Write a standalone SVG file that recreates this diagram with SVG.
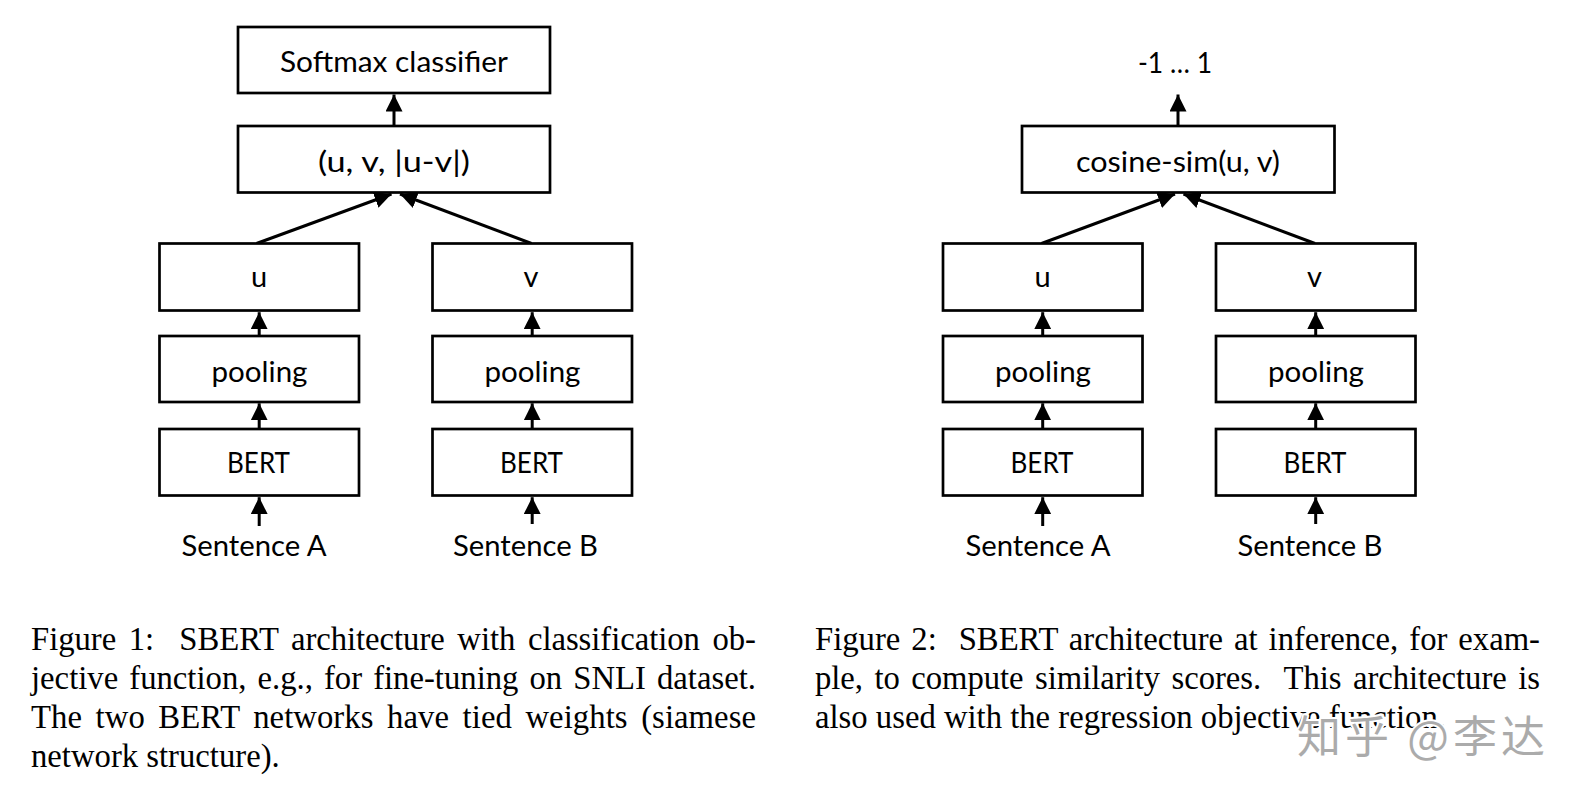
<svg xmlns="http://www.w3.org/2000/svg" width="1585" height="798" viewBox="0 0 1585 798">
  <style>
    .box { fill: #fff; stroke: #000; stroke-width: 2.7; }
    .lbl { font-family: Lato, "Open Sans", "Liberation Sans", sans-serif; font-size: 29px; fill: #000; text-anchor: middle; }
    .edge { stroke: #000; stroke-width: 3; fill: none; marker-end: url(#ah); }
    .cap { font-family: "Liberation Serif", "Times New Roman", serif; font-size: 32.7px; fill: #000; }
    .wm { font-family: "Noto Sans CJK SC", "Noto Sans", sans-serif; font-size: 44px; fill: #ababab; stroke: #fff; stroke-width: 4; paint-order: stroke; stroke-linejoin: round; }
  </style>
  <defs>
    <marker id="ah" markerUnits="userSpaceOnUse" markerWidth="17" markerHeight="17" refX="17" refY="8.5" orient="auto" viewBox="0 0 17 17">
      <path d="M0,0 L17,8.5 L0,17 Z" fill="#000"/>
    </marker>
  </defs>
  <rect width="1585" height="798" fill="#fff"/>

  <g id="connectors">
    <!-- Figure 1 -->
    <line class="edge" x1="394" y1="126" x2="394" y2="94.5"/>
    <line class="edge" x1="256.5" y1="243.5" x2="391.5" y2="194"/>
    <line class="edge" x1="531.5" y1="243.5" x2="400" y2="194"/>
    <line class="edge" x1="259.2" y1="336" x2="259.2" y2="312.2"/>
    <line class="edge" x1="532.2" y1="336" x2="532.2" y2="312.2"/>
    <line class="edge" x1="259.2" y1="429" x2="259.2" y2="403.3"/>
    <line class="edge" x1="532.2" y1="429" x2="532.2" y2="403.3"/>
    <line class="edge" x1="259.2" y1="526" x2="259.2" y2="497.2"/>
    <line class="edge" x1="532.2" y1="524" x2="532.2" y2="497.2"/>
    <!-- Figure 2 -->
    <line class="edge" x1="1178" y1="126" x2="1178" y2="94.5"/>
    <line class="edge" x1="1041.5" y1="243.5" x2="1175" y2="194"/>
    <line class="edge" x1="1315" y1="243.5" x2="1183.5" y2="194"/>
    <line class="edge" x1="1042.7" y1="336" x2="1042.7" y2="312.2"/>
    <line class="edge" x1="1315.7" y1="336" x2="1315.7" y2="312.2"/>
    <line class="edge" x1="1042.7" y1="429" x2="1042.7" y2="403.3"/>
    <line class="edge" x1="1315.7" y1="429" x2="1315.7" y2="403.3"/>
    <line class="edge" x1="1042.7" y1="526" x2="1042.7" y2="497.2"/>
    <line class="edge" x1="1315.7" y1="524" x2="1315.7" y2="497.2"/>
  </g>

  <!-- Figure 1 nodes -->
  <g id="f1-softmax">
    <rect class="box" x="238" y="27" width="312" height="66"/>
    <text class="lbl" x="394" y="71.5" textLength="228" lengthAdjust="spacingAndGlyphs">Softmax classifier</text>
  </g>
  <g id="f1-concat">
    <rect class="box" x="238" y="126" width="312" height="66.5"/>
    <text class="lbl" x="394" y="172" textLength="152" lengthAdjust="spacingAndGlyphs">(u, v, |u-v|)</text>
  </g>
  <g id="f1-u">
    <rect class="box" x="159.5" y="243.5" width="199.5" height="67"/>
    <text class="lbl" x="259" y="287">u</text>
  </g>
  <g id="f1-v">
    <rect class="box" x="432.5" y="243.5" width="199.5" height="67"/>
    <text class="lbl" x="531" y="287">v</text>
  </g>
  <g id="f1-pooling-a">
    <rect class="box" x="159.5" y="336" width="199.5" height="66"/>
    <text class="lbl" x="259.5" y="382" textLength="96" lengthAdjust="spacingAndGlyphs">pooling</text>
  </g>
  <g id="f1-pooling-b">
    <rect class="box" x="432.5" y="336" width="199.5" height="66"/>
    <text class="lbl" x="532.5" y="382" textLength="96" lengthAdjust="spacingAndGlyphs">pooling</text>
  </g>
  <g id="f1-bert-a">
    <rect class="box" x="159.5" y="429" width="199.5" height="66.5"/>
    <text class="lbl" x="258.5" y="473" textLength="63" lengthAdjust="spacingAndGlyphs">BERT</text>
  </g>
  <g id="f1-bert-b">
    <rect class="box" x="432.5" y="429" width="199.5" height="66.5"/>
    <text class="lbl" x="531.5" y="473" textLength="63" lengthAdjust="spacingAndGlyphs">BERT</text>
  </g>
  <g id="f1-sentence-a">
    <text class="lbl" x="254" y="556" textLength="145" lengthAdjust="spacingAndGlyphs">Sentence A</text>
  </g>
  <g id="f1-sentence-b">
    <text class="lbl" x="525.5" y="556" textLength="145" lengthAdjust="spacingAndGlyphs">Sentence B</text>
  </g>

  <!-- Figure 2 nodes -->
  <g id="f2-output">
    <text class="lbl" x="1175" y="73" textLength="74" lengthAdjust="spacingAndGlyphs">-1 … 1</text>
  </g>
  <g id="f2-cosine">
    <rect class="box" x="1022" y="126" width="312.5" height="66.5"/>
    <text class="lbl" x="1178" y="172" textLength="204" lengthAdjust="spacingAndGlyphs">cosine-sim(u, v)</text>
  </g>
  <g id="f2-u">
    <rect class="box" x="943" y="243.5" width="199.5" height="67"/>
    <text class="lbl" x="1042.5" y="287">u</text>
  </g>
  <g id="f2-v">
    <rect class="box" x="1216" y="243.5" width="199.5" height="67"/>
    <text class="lbl" x="1314.5" y="287">v</text>
  </g>
  <g id="f2-pooling-a">
    <rect class="box" x="943" y="336" width="199.5" height="66"/>
    <text class="lbl" x="1043" y="382" textLength="96" lengthAdjust="spacingAndGlyphs">pooling</text>
  </g>
  <g id="f2-pooling-b">
    <rect class="box" x="1216" y="336" width="199.5" height="66"/>
    <text class="lbl" x="1316" y="382" textLength="96" lengthAdjust="spacingAndGlyphs">pooling</text>
  </g>
  <g id="f2-bert-a">
    <rect class="box" x="943" y="429" width="199.5" height="66.5"/>
    <text class="lbl" x="1042" y="473" textLength="63" lengthAdjust="spacingAndGlyphs">BERT</text>
  </g>
  <g id="f2-bert-b">
    <rect class="box" x="1216" y="429" width="199.5" height="66.5"/>
    <text class="lbl" x="1315" y="473" textLength="63" lengthAdjust="spacingAndGlyphs">BERT</text>
  </g>
  <g id="f2-sentence-a">
    <text class="lbl" x="1038" y="556" textLength="145" lengthAdjust="spacingAndGlyphs">Sentence A</text>
  </g>
  <g id="f2-sentence-b">
    <text class="lbl" x="1310" y="556" textLength="145" lengthAdjust="spacingAndGlyphs">Sentence B</text>
  </g>

  <!-- Captions -->
  <g id="caption-1">
    <text class="cap" x="31" y="649.5" word-spacing="4.5" textLength="725" lengthAdjust="spacing">Figure 1:&#160; SBERT architecture with classification ob-</text>
    <text class="cap" x="31" y="688.8" word-spacing="2.9" textLength="725" lengthAdjust="spacing">jective function, e.g., for fine-tuning on SNLI dataset.</text>
    <text class="cap" x="31" y="728" word-spacing="5.3" textLength="725" lengthAdjust="spacing">The two BERT networks have tied weights (siamese</text>
    <text class="cap" x="31" y="767">network structure).</text>
  </g>
  <g id="caption-2">
    <text class="cap" x="815" y="649.5" word-spacing="2.8" textLength="725" lengthAdjust="spacing">Figure 2:&#160; SBERT architecture at inference, for exam-</text>
    <text class="cap" x="815" y="688.8" word-spacing="3.4" textLength="725" lengthAdjust="spacing">ple, to compute similarity scores.&#160; This architecture is</text>
    <text class="cap" x="815" y="728">also used with the regression objective function.</text>
  </g>

  <g id="watermark">
    <text class="wm" x="1297" y="753" textLength="248" lengthAdjust="spacing">知乎 @李达</text>
  </g>
</svg>
